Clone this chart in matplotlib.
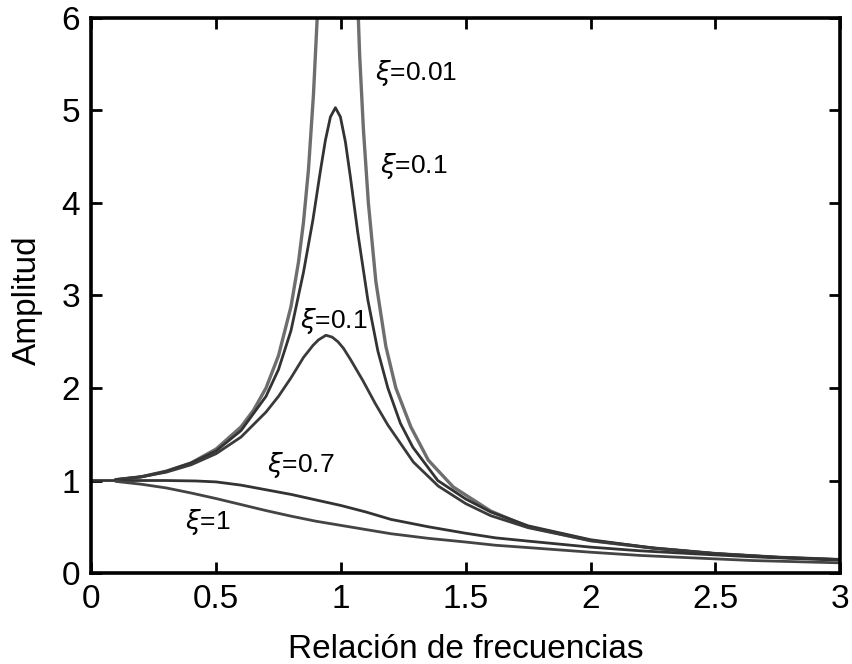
import numpy as np
import matplotlib
matplotlib.use('Agg')
import matplotlib.pyplot as plt

plt.rcParams['font.family'] = ['Liberation Sans', 'DejaVu Sans']
plt.rcParams['mathtext.fontset'] = 'dejavusans'

# Curves: frequency ratio -> amplitude
r_001 = [0.1, 0.2, 0.3, 0.4, 0.5, 0.6, 0.65, 0.7, 0.75, 0.8, 0.83, 0.85, 0.87, 0.89,
         0.905, 0.915, 1.058, 1.075, 1.09, 1.11, 1.14, 1.18, 1.22, 1.28, 1.35, 1.45,
         1.6, 1.75, 2.0, 2.25, 2.5, 2.75, 3.0]
a_001 = [1.01, 1.04, 1.10, 1.19, 1.34, 1.58, 1.76, 2.00, 2.35, 2.88, 3.36, 3.79, 4.36, 5.17,
         6.0, 6.9, 6.9, 5.6, 4.8, 4.0, 3.15, 2.45, 2.0, 1.58, 1.22, 0.93,
         0.67, 0.50, 0.35, 0.27, 0.21, 0.17, 0.145]

r_01 = [0.1, 0.2, 0.3, 0.4, 0.5, 0.6, 0.7, 0.75, 0.8, 0.85, 0.888, 0.918, 0.938, 0.958,
        0.978, 0.998, 1.018, 1.038, 1.068, 1.108, 1.148, 1.188, 1.238, 1.288, 1.388, 1.5,
        1.6, 1.75, 2.0, 2.25, 2.5, 2.75, 3.0]
a_01 = [1.01, 1.04, 1.10, 1.19, 1.32, 1.54, 1.91, 2.20, 2.62, 3.25, 3.82, 4.35, 4.68, 4.93,
        5.03, 4.93, 4.66, 4.28, 3.67, 2.95, 2.40, 2.00, 1.62, 1.36, 1.00, 0.80,
        0.66, 0.51, 0.36, 0.27, 0.21, 0.17, 0.145]

r_02 = [0.1, 0.2, 0.3, 0.4, 0.5, 0.6, 0.7, 0.75, 0.8, 0.85, 0.888, 0.91, 0.94, 0.965,
        0.988, 1.01, 1.038, 1.088, 1.138, 1.188, 1.29, 1.39, 1.5, 1.6, 1.75, 2.0, 2.25,
        2.5, 2.75, 3.0]
a_02 = [1.01, 1.04, 1.09, 1.17, 1.29, 1.47, 1.74, 1.91, 2.11, 2.33, 2.46, 2.52, 2.57, 2.55,
        2.50, 2.43, 2.31, 2.08, 1.83, 1.60, 1.20, 0.94, 0.75, 0.62, 0.49, 0.35, 0.27,
        0.21, 0.17, 0.145]

r_07 = [0.0, 0.1, 0.2, 0.3, 0.42, 0.5, 0.6, 0.7, 0.8, 0.9, 1.0, 1.1, 1.2, 1.35, 1.5,
        1.62, 1.75, 2.0, 2.2, 2.4, 2.65, 3.0]
a_07 = [1.0, 1.0, 1.0, 1.0, 0.995, 0.985, 0.95, 0.90, 0.85, 0.79, 0.73, 0.66, 0.58, 0.50, 0.43,
        0.38, 0.345, 0.28, 0.24, 0.21, 0.175, 0.14]

r_1 = [0.1, 0.2, 0.3, 0.4, 0.5, 0.6, 0.7, 0.8, 0.9, 1.0, 1.1, 1.2, 1.35, 1.5, 1.62,
       1.75, 2.0, 2.2, 2.4, 2.65, 3.0]
a_1 = [0.99, 0.96, 0.92, 0.865, 0.805, 0.74, 0.675, 0.615, 0.56, 0.515, 0.47, 0.425, 0.375,
       0.335, 0.30, 0.275, 0.225, 0.19, 0.165, 0.135, 0.11]

labels = [r'$\xi$=0.01', r'$\xi$=0.1', r'$\xi$=0.1', r'$\xi$=0.7', r'$\xi$=1']
label_x = [1.135, 1.155, 0.835, 0.705, 0.375]
label_y = [5.40, 4.40, 2.72, 1.17, 0.55]

fig = plt.figure(figsize=(8.53, 6.64), dpi=100)
ax = fig.add_axes([0.107, 0.137, 0.878, 0.836])

ax.plot(r_001, a_001, color='#6e6e6e', linewidth=2.4)
ax.plot(r_01, a_01, color='#333333', linewidth=2.0)
ax.plot(r_02, a_02, color='#3a3a3a', linewidth=2.0)
ax.plot(r_07, a_07, color='#333333', linewidth=2.0)
ax.plot(r_1, a_1, color='#444444', linewidth=2.0)

for txt, lx, ly in zip(labels, label_x, label_y):
    ax.text(lx, ly, txt, fontsize=19, ha='left', va='center', color='black')

ax.set_xlim(0, 3)
ax.set_ylim(0, 6)
ax.set_xticks([0, 0.5, 1, 1.5, 2, 2.5, 3])
ax.set_xticklabels(['0', '0.5', '1', '1.5', '2', '2.5', '3'])
ax.set_yticks([0, 1, 2, 3, 4, 5, 6])
ax.tick_params(direction='in', length=8, width=2.0, top=True, right=True,
               labelsize=24, pad=8)
for s in ax.spines.values():
    s.set_linewidth(2.6)

ax.set_xlabel('Relación de frecuencias', fontsize=24)
ax.xaxis.set_label_coords(0.5, -0.11)
ax.set_ylabel('Amplitud', fontsize=24)
ax.yaxis.set_label_coords(-0.065, 0.491)

plt.savefig('out.png', dpi=100)
plt.close()
